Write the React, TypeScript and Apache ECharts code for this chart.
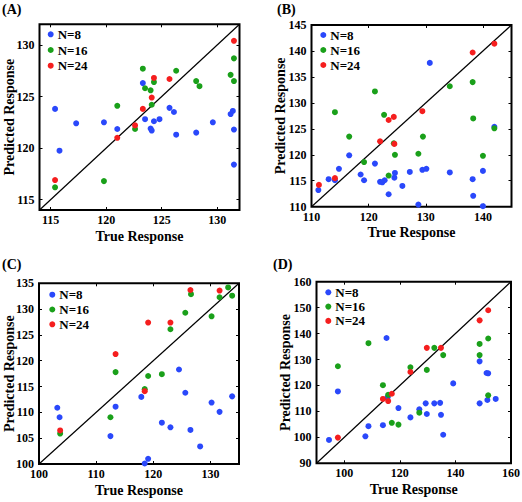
import React, { useEffect, useRef } from "react";
import * as echarts from "echarts";

// ---------- data ----------
const legendNames = ["N=8", "N=16", "N=24"];
const panelLabels = ["(A)", "(B)", "(C)", "(D)"];
const axisXName = "True Response";
const axisYName = "Predicted Response";

// axis ranges and tick values per panel
const rangeA = [114, 132];
const rangeB = [110, 145];
const rangeC = [100, 135];
const rangeD = [90, 160];
const xTicksA = [115, 120, 125, 130];
const yTicksA = [115, 120, 125, 130];
const xTicksB = [110, 120, 130, 140];
const yTicksB = [110, 115, 120, 125, 130, 135, 140, 145];
const xTicksC = [100, 110, 120, 130];
const yTicksC = [100, 105, 110, 115, 120, 125, 130, 135];
const xTicksD = [100, 120, 140, 160];
const yTicksD = [90, 100, 110, 120, 130, 140, 150, 160];

// Panel A
const aN8: number[][] = [
  [115.4, 123.8], [115.8, 119.75], [117.3, 122.4], [119.8, 122.5], [121.0, 121.85],
  [123.3, 126.3], [123.5, 122.8], [124.0, 121.9], [124.1, 121.7], [124.3, 122.6],
  [124.8, 122.8], [125.7, 123.9], [126.1, 123.5], [126.3, 121.3], [128.1, 121.5],
  [129.6, 122.5], [131.2, 123.3], [131.4, 123.6], [131.5, 121.8], [131.5, 118.4],
];
const aN16: number[][] = [
  [115.4, 116.2], [119.8, 116.8], [121.0, 124.1], [122.6, 121.85], [123.3, 127.7],
  [123.5, 125.8], [124.0, 125.6], [124.1, 124.2], [124.3, 126.4], [126.3, 127.5],
  [128.1, 126.5], [128.4, 126.0], [131.2, 127.1], [131.5, 128.7], [131.5, 126.5],
];
const aN24: number[][] = [
  [115.4, 116.9], [121.0, 121.0], [122.6, 122.2], [123.3, 123.8], [124.1, 124.9],
  [124.3, 126.8], [125.7, 126.7], [131.5, 130.4],
];

// Panel B
const bN8: number[][] = [
  [111.2, 113.2], [113.0, 115.3], [114.1, 115.1], [114.8, 117.3], [116.6, 119.9],
  [118.6, 116.2], [119.2, 115.1], [121.1, 118.3], [122.0, 114.8], [122.4, 114.7],
  [122.8, 115.1], [123.5, 112.4], [124.5, 115.6], [124.6, 116.5], [125.9, 114.0],
  [127.2, 116.7], [128.7, 110.4], [129.4, 117.1], [130.1, 117.3], [130.7, 137.7],
  [134.2, 116.6], [138.2, 115.3], [138.3, 112.1], [140.0, 116.9], [140.0, 110.1],
  [142.0, 125.4],
];
const bN16: number[][] = [
  [114.1, 128.2], [116.6, 123.5], [119.2, 118.6], [121.1, 132.2], [122.7, 127.7],
  [123.5, 116.0], [124.4, 122.2], [124.6, 120.0], [128.7, 120.2], [129.5, 123.5],
  [134.2, 133.2], [138.2, 134.0], [138.3, 127.0], [140.0, 119.8], [142.0, 125.1],
];
const bN24: number[][] = [
  [111.3, 114.2], [114.1, 115.5], [122.0, 122.6], [123.5, 126.7], [124.4, 127.3],
  [124.5, 122.1], [129.4, 128.4], [138.2, 139.7], [142.0, 141.4],
];

// Panel C
const cN8: number[][] = [
  [103.2, 110.9], [103.6, 109.05], [112.5, 105.4], [113.4, 111.1], [117.9, 113.0],
  [118.5, 100.1], [119.1, 101.0], [121.5, 108.0], [123.0, 107.1], [124.5, 118.3],
  [125.6, 113.8], [126.5, 106.6], [128.2, 103.4], [130.2, 111.9], [131.6, 110.1],
  [133.8, 113.1],
];
const cN16: number[][] = [
  [103.7, 105.9], [112.5, 109.05], [113.4, 117.8], [118.5, 114.5], [119.1, 117.05],
  [121.5, 117.4], [123.0, 126.1], [125.6, 129.3], [126.6, 132.9], [130.2, 128.6],
  [131.6, 132.3], [133.1, 134.2], [133.8, 132.6],
];
const cN24: number[][] = [
  [103.7, 106.5], [113.4, 121.3], [118.5, 114.1], [119.1, 127.4], [123.0, 127.4],
  [126.5, 133.7], [131.6, 133.6],
];

// Panel D
const dN8: number[][] = [
  [94.5, 99.0], [97.7, 117.7], [107.6, 100.4], [108.7, 104.3], [113.9, 104.7],
  [115.2, 138.3], [115.6, 115.5], [119.5, 111.3], [123.8, 107.7], [127.0, 110.8],
  [129.3, 113.1], [129.7, 109.0], [132.4, 113.1], [134.5, 113.3], [134.8, 108.7],
  [135.6, 101.0], [139.2, 120.8], [148.7, 129.3], [148.7, 113.1], [151.2, 124.8],
  [151.8, 124.7], [151.5, 114.4], [154.5, 114.8],
];
const dN16: number[][] = [
  [97.7, 127.4], [108.7, 136.3], [113.9, 120.1], [115.8, 116.4], [117.1, 105.6],
  [119.5, 104.9], [123.8, 127.0], [127.0, 109.5], [129.7, 126.0], [132.4, 134.5],
  [135.6, 131.7], [148.7, 136.0], [148.7, 131.7], [151.8, 138.1], [151.8, 116.2],
];
const dN24: number[][] = [
  [97.7, 99.9], [113.9, 114.8], [115.8, 114.0], [117.1, 116.8], [123.8, 125.2],
  [129.7, 134.5], [134.8, 134.5], [148.7, 145.1], [151.8, 149.0],
];

// ---------- layout / style ----------
const FONT = '"Liberation Serif", "Times New Roman", Times, serif';
const COLORS = ["#2a48fb", "#1aa01a", "#f51e1e"];

const panels = [
  {
    label: panelLabels[0], range: rangeA, xTicks: xTicksA, yTicks: yTicksA, series: [aN8, aN16, aN24],
    grid: { left: 39.5, top: 24.3, width: 200, height: 185.7 },
    title: { left: 2, top: 2 },
    legend: { left: 47.7, top: 27.8, gap: 2.7 },
    yNameGap: 23,
  },
  {
    label: panelLabels[1], range: rangeB, xTicks: xTicksB, yTicks: yTicksB, series: [bN8, bN16, bN24],
    grid: { left: 311.5, top: 25, width: 200, height: 181.7 },
    title: { left: 277, top: 2 },
    legend: { left: 320.3, top: 28.5, gap: 2 },
    yNameGap: 24,
  },
  {
    label: panelLabels[2], range: rangeC, xTicks: xTicksC, yTicks: yTicksC, series: [cN8, cN16, cN24],
    grid: { left: 39, top: 283.3, width: 200, height: 180.7 },
    title: { left: 2, top: 257 },
    legend: { left: 49.3, top: 288.2, gap: 1.8 },
    yNameGap: 22.5,
  },
  {
    label: panelLabels[3], range: rangeD, xTicks: xTicksD, yTicks: yTicksD, series: [dN8, dN16, dN24],
    grid: { left: 316.5, top: 281.7, width: 194.5, height: 181.6 },
    title: { left: 273, top: 257 },
    legend: { left: 325.3, top: 285.8, gap: 1.3 },
    yNameGap: 24.5,
  },
];

function buildOption() {
  const grid: any[] = [];
  const xAxis: any[] = [];
  const yAxis: any[] = [];
  const series: any[] = [];
  const legend: any[] = [];
  const title: any[] = [];

  const labelStyle = { fontFamily: FONT, fontWeight: "bold", fontSize: 12, color: "#000" };
  const nameStyle = { fontFamily: FONT, fontWeight: "bold", fontSize: 14, color: "#000" };

  panels.forEach((p, i) => {
    grid.push({
      ...p.grid,
      show: true,
      borderColor: "#000",
      borderWidth: 2,
      backgroundColor: "transparent",
      containLabel: false,
      outerBoundsMode: "none",
    });
    const [mn, mx] = p.range;
    const common = (ticks: number[]) => ({
      gridIndex: i,
      type: "value",
      min: mn,
      max: mx,
      axisLine: { show: false },
      splitLine: { show: false },
      axisTick: { show: true, inside: true, length: 3, customValues: ticks, lineStyle: { color: "#000", width: 1 } },
    });
    xAxis.push({
      ...common(p.xTicks),
      position: "bottom",
      axisLabel: { show: true, customValues: p.xTicks, margin: 4, ...labelStyle },
      name: axisXName,
      nameLocation: "middle",
      nameGap: 19,
      nameMoveOverlap: false,
      nameTextStyle: nameStyle,
    });
    xAxis.push({
      ...common(p.xTicks),
      position: "top",
      axisLabel: { show: false },
    });
    yAxis.push({
      ...common(p.yTicks),
      position: "left",
      axisLabel: { show: true, customValues: p.yTicks, margin: 5, ...labelStyle },
      name: axisYName,
      nameLocation: "middle",
      nameGap: p.yNameGap,
      nameMoveOverlap: false,
      nameTextStyle: nameStyle,
    });
    yAxis.push({
      ...common(p.yTicks),
      position: "right",
      axisLabel: { show: false },
    });

    series.push({
      name: "diag" + i,
      type: "line",
      xAxisIndex: 2 * i,
      yAxisIndex: 2 * i,
      data: [[mn, mn], [mx, mx]],
      symbol: "none",
      silent: true,
      lineStyle: { color: "#000", width: 1.2 },
      z: 1,
    });
    p.series.forEach((d, k) => {
      series.push({
        name: legendNames[k],
        type: "scatter",
        xAxisIndex: 2 * i,
        yAxisIndex: 2 * i,
        data: d,
        symbol: "circle",
        symbolSize: 6,
        itemStyle: { color: COLORS[k], opacity: 1 },
        z: 3,
      });
    });

    legend.push({
      data: legendNames,
      orient: "vertical",
      left: p.legend.left,
      top: p.legend.top,
      padding: 0,
      itemGap: p.legend.gap,
      itemWidth: 6,
      itemHeight: 6,
      icon: "circle",
      selectedMode: false,
      textStyle: { fontFamily: FONT, fontWeight: "bold", fontSize: 13, color: "#000", lineHeight: 13, padding: [0, 0, 0, -1] },
    });

    title.push({
      text: p.label,
      left: p.title.left,
      top: p.title.top,
      padding: 0,
      textStyle: { fontFamily: FONT, fontWeight: "bold", fontSize: 14, color: "#000" },
    });
  });

  return {
    animation: false,
    backgroundColor: "#fff",
    title,
    legend,
    grid,
    xAxis,
    yAxis,
    series,
  };
}

export default function App() {
  const ref = useRef<HTMLDivElement>(null);
  useEffect(() => {
    if (!ref.current) return;
    const chart = echarts.init(ref.current, undefined, { renderer: "svg" });
    chart.setOption(buildOption() as any);
    return () => chart.dispose();
  }, []);
  return (
    <div
      ref={ref}
      style={{ position: "fixed", left: 0, top: 0, width: 522, height: 502, background: "#fff" }}
    />
  );
}
